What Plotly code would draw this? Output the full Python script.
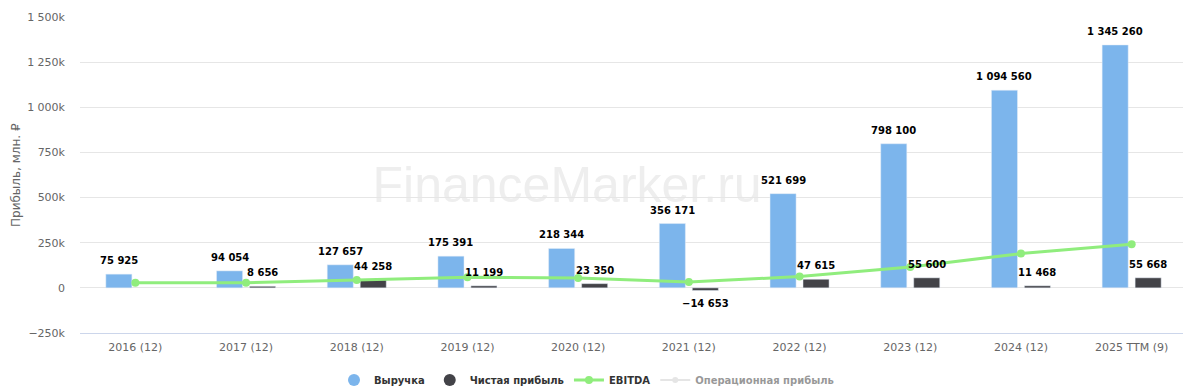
import plotly.graph_objects as go

categories = ["2016 (12)", "2017 (12)", "2018 (12)", "2019 (12)", "2020 (12)",
              "2021 (12)", "2022 (12)", "2023 (12)", "2024 (12)", "2025 TTM (9)"]
revenue = [75925, 94054, 127657, 175391, 218344, 356171, 521699, 798100, 1094560, 1345260]
net_profit = [None, 8656, 44258, 11199, 23350, -14653, 47615, 55600, 11468, 55668]
ebitda = [28000, 28000, 44000, 59000, 55000, 32000, 63000, 116000, 190000, 241000]

y_tickvals = [-250000, 0, 250000, 500000, 750000, 1000000, 1250000, 1500000]
y_ticktext = ["−250k", "0", "250k", "500k", "750k", "1 000k", "1 250k", "1 500k"]

BLUE = "#7cb5ec"
DARK = "#434348"
GREEN = "#90ed7d"
FONT = "DejaVu Sans"


def fmt(v):
    s = f"{abs(v):,}".replace(",", " ")
    return ("−" + s) if v < 0 else s


fig = go.Figure()
fig.add_trace(go.Bar(x=categories, y=revenue, marker_color=BLUE, name="Выручка",
                     showlegend=False, offsetgroup="a"))
fig.add_trace(go.Bar(x=categories, y=net_profit, marker_color=DARK, name="Чистая прибыль",
                     showlegend=False, offsetgroup="b"))
# legend proxies (round symbols as in the original)
fig.add_trace(go.Scatter(x=[None], y=[None], mode="markers", name="Выручка",
                         marker=dict(color=BLUE, size=12, symbol="circle")))
fig.add_trace(go.Scatter(x=[None], y=[None], mode="markers", name="Чистая прибыль",
                         marker=dict(color=DARK, size=12, symbol="circle")))
fig.add_trace(go.Scatter(x=categories, y=ebitda, mode="lines+markers", name="EBITDA",
                         line=dict(color=GREEN, width=3),
                         marker=dict(color=GREEN, size=8, symbol="circle")))
fig.add_trace(go.Scatter(x=[None], y=[None], mode="lines+markers", name="Операционная прибыль",
                         line=dict(color="#cccccc", width=2),
                         marker=dict(color="#cccccc", size=6), visible="legendonly"))

annotations = []
for c, v in zip(categories, revenue):
    annotations.append(dict(x=c, y=v, xref="x", yref="y", text=fmt(v), showarrow=False,
                            xshift=-16.5, yshift=6, yanchor="bottom",
                            font=dict(family=FONT, size=10, color="#000000", weight="bold")))
for c, v in zip(categories, net_profit):
    if v is None:
        continue
    annotations.append(dict(x=c, y=v, xref="x", yref="y", text=fmt(v), showarrow=False,
                            xshift=16.5, yshift=(6 if v >= 0 else -5),
                            yanchor=("bottom" if v >= 0 else "top"),
                            font=dict(family=FONT, size=10, color="#000000", weight="bold")))
# y-axis title
annotations.append(dict(text="Прибыль, млн. ₽", xref="paper", yref="paper", x=0, y=0.5,
                        xshift=-64, xanchor="center", yanchor="middle", textangle=-90,
                        showarrow=False, font=dict(family=FONT, size=12, color="#666666")))

fig.update_layout(
    width=1183, height=381,
    margin=dict(l=72, r=4, t=9, b=56, autoexpand=False),
    paper_bgcolor="white", plot_bgcolor="white",
    font=dict(family=FONT, size=11, color="#666666"),
    barmode="group", bargap=0.404, bargroupgap=0.21,
    annotations=annotations,
    shapes=[dict(type="rect", xref="paper", yref="paper", x0=0.24, x1=0.64, y0=0.393, y1=0.573,
                 line=dict(width=0), fillcolor="rgba(0,0,0,0)", layer="below",
                 label=dict(text="FinanceMarker.ru", textposition="middle center",
                            font=dict(family="Liberation Sans", size=50, color="#eeeeee")))],
    legend=dict(orientation="h", xref="container", yref="container", x=0.489, y=0.0236,
                xanchor="center", yanchor="middle",
                font=dict(family=FONT, size=10, color="#333333", weight="bold"),
                itemwidth=30, tracegroupgap=0),
    hovermode=False,
)
fig.update_xaxes(type="category", range=[-0.5, 9.5], showgrid=False, showline=True,
                 linecolor="#ccd6eb", linewidth=1, ticks="",
                 tickfont=dict(size=11, color="#666666"), ticklabelstandoff=4)
fig.update_yaxes(range=[-250000, 1500000], tickvals=y_tickvals, ticktext=y_ticktext,
                 showgrid=True, gridcolor="#e6e6e6", gridwidth=1,
                 zeroline=True, zerolinecolor="#e6e6e6", zerolinewidth=1,
                 showline=False, ticks="", ticklabelstandoff=14,
                 tickfont=dict(size=11, color="#666666"))

fig.write_html("out.html")
